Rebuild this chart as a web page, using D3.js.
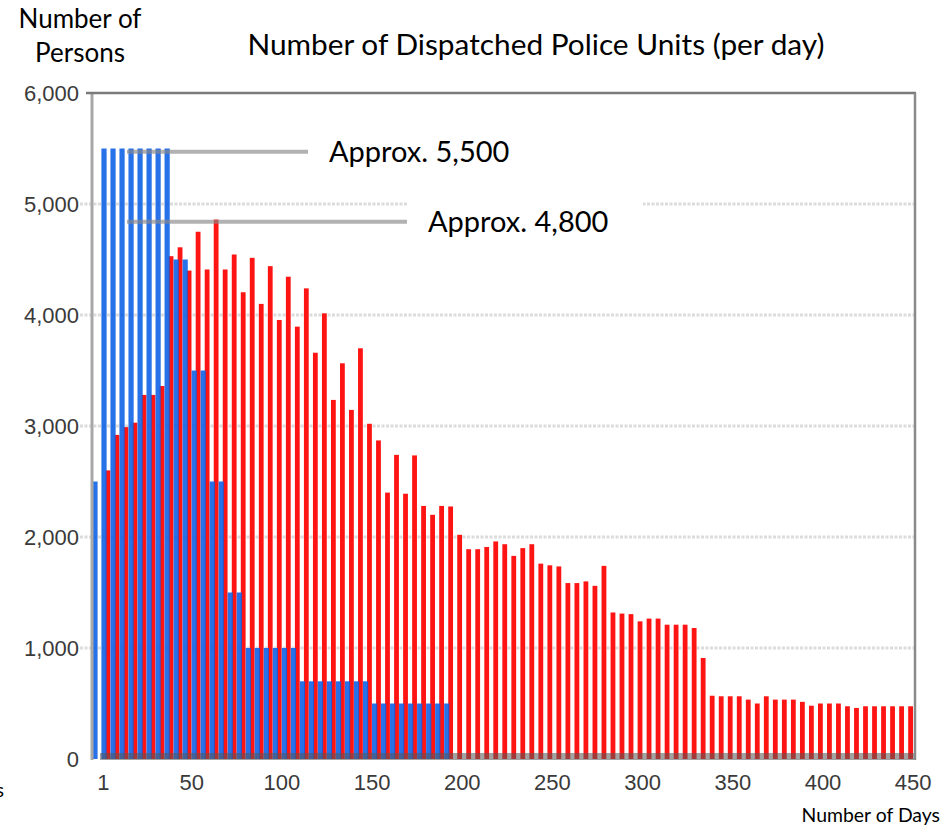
<!DOCTYPE html>
<meta charset="utf-8">
<title>Dispatched Police Units</title>
<style>

body {
  margin: 0;
  background: #fff;
}

.tick-label {
  font-family: "Liberation Sans", Arial, sans-serif;
  font-size: 22px;
  fill: #3a3a3a;
}

.caption {
  font-family: Lato, "Open Sans", sans-serif;
  fill: #000;
}

.grid {
  stroke: #dcdcdc;
  stroke-width: 3;
  stroke-dasharray: 3,1.5;
}

</style>
<body>

<script src="https://d3js.org/d3.v7.min.js"></script>
<script>

// y ticks and x ticks
var yTicks = [0, 1000, 2000, 3000, 4000, 5000, 6000];
var xTicks = [1, 50, 100, 150, 200, 250, 300, 350, 400, 450];

// red series: one bar per 5 days, first bin starts at day 0
var redStart = 0;
var redValues = [
  2600, 2920, 2990, 3030, 3280, 3280, 3360, 4530, 4610, 4400,
  4750, 4410, 4860, 4410, 4545, 4205, 4515, 4100, 4440, 3955,
  4345, 3895, 4240, 3660, 4015, 3235, 3565, 3145, 3700, 3020,
  2870, 2400, 2740, 2390, 2735, 2280, 2200, 2280, 2275, 2020,
  1890, 1890, 1910, 1960, 1935, 1830, 1900, 1935, 1760, 1745,
  1735, 1585, 1585, 1600, 1560, 1740, 1320, 1310, 1305, 1240,
  1265, 1265, 1210, 1210, 1210, 1180, 910, 570, 565, 565,
  565, 535, 500, 565, 535, 535, 535, 515, 480, 500,
  500, 500, 475, 460, 475, 475, 475, 475, 475, 475
];

// blue series: one bar per 5 days, first bin starts 5 days earlier
var blueStart = -5;
var blueValues = [
  2500, 5500, 5500, 5500, 5500, 5500, 5500, 5500, 5500, 4500,
  4500, 3500, 3500, 2500, 2500, 1500, 1500, 1000, 1000, 1000,
  1000, 1000, 1000, 700, 700, 700, 700, 700, 700, 700,
  700, 500, 500, 500, 500, 500, 500, 500, 500, 500
];

// the two callouts
var callouts = [
  {label: "Approx. 5,500", value: 5470, lineEnd: 308, boxEnd: 530},
  {label: "Approx. 4,800", value: 4840, lineEnd: 407, boxEnd: 643}
];

var binDays = 5;

var width = 952,
    height = 826;

var plot = {left: 92, right: 915, top: 93, bottom: 759};

var svg = d3.select("body").append("svg")
    .attr("width", width)
    .attr("height", height);

var x = d3.scaleLinear()
    .domain([0, 450])
    .range([101.5, 913.2]);

var y = d3.scaleLinear()
    .domain([0, 6000])
    .range([plot.bottom, plot.top]);

function binCenter(start, i) {
  return x(start + i * binDays + binDays / 2);
}

// gridlines
svg.append("g").selectAll("line")
    .data(yTicks.filter(function(d) { return d > 0 && d < 6000; }))
  .enter().append("line")
    .attr("class", "grid")
    .attr("x1", 80)
    .attr("x2", plot.right)
    .attr("y1", function(d) { return y(d); })
    .attr("y2", function(d) { return y(d); });

// red bars
svg.append("g").selectAll("rect")
    .data(redValues)
  .enter().append("rect")
    .attr("x", function(d, i) { return binCenter(redStart, i) - 0.5; })
    .attr("width", 4.8)
    .attr("y", function(d) { return y(d); })
    .attr("height", function(d) { return y(0) - y(d); })
    .style("fill", "#ff1414");

// blue bars on top
svg.append("g").selectAll("rect")
    .data(blueValues)
  .enter().append("rect")
    .attr("x", function(d, i) { return binCenter(blueStart, i) - 4.6; })
    .attr("width", 5.2)
    .attr("y", function(d) { return y(d); })
    .attr("height", function(d) { return y(0) - y(d); })
    .style("fill", "#0a5fe6")
    .style("opacity", 0.88);

// grey strip along the bottom of the bars
svg.append("rect")
    .attr("x", 100)
    .attr("y", y(0) - 6)
    .attr("width", plot.right - 100)
    .attr("height", 7)
    .style("fill", "#555")
    .style("opacity", 0.55);

// white boxes behind callout text
svg.append("g").selectAll("rect")
    .data(callouts)
  .enter().append("rect")
    .attr("x", function(d) { return d.lineEnd; })
    .attr("y", function(d) { return y(d.value) - 24; })
    .attr("width", function(d) { return d.boxEnd - d.lineEnd; })
    .attr("height", 46)
    .style("fill", "#fff");

// callout lines
svg.append("g").selectAll("line")
    .data(callouts)
  .enter().append("line")
    .attr("x1", 127)
    .attr("x2", function(d) { return d.lineEnd; })
    .attr("y1", function(d) { return y(d.value); })
    .attr("y2", function(d) { return y(d.value); })
    .style("stroke", "#8a8a8a")
    .style("stroke-width", 4)
    .style("opacity", 0.65);

// callout text
svg.append("g").selectAll("text")
    .data(callouts)
  .enter().append("text")
    .attr("class", "caption")
    .attr("x", function(d) { return d.lineEnd + 21; })
    .attr("y", function(d) { return y(d.value) + 10; })
    .style("font-size", "29px")
    .text(function(d) { return d.label; });

// frame: left axis, top and right border
svg.append("line")
    .attr("x1", plot.left).attr("x2", plot.left)
    .attr("y1", plot.top).attr("y2", plot.bottom + 1)
    .style("stroke", "#a8a8a8")
    .style("stroke-width", 3);

svg.append("line")
    .attr("x1", 86).attr("x2", plot.right + 1)
    .attr("y1", plot.top).attr("y2", plot.top)
    .style("stroke", "#7a7a7a")
    .style("stroke-width", 2.5);

svg.append("line")
    .attr("x1", plot.right).attr("x2", plot.right)
    .attr("y1", plot.top).attr("y2", plot.bottom + 1)
    .style("stroke", "#8a8a8a")
    .style("stroke-width", 2.5);

// y tick labels
svg.append("g").selectAll("text")
    .data(yTicks)
  .enter().append("text")
    .attr("class", "tick-label")
    .attr("x", 79)
    .attr("y", function(d) { return y(d); })
    .attr("dy", "0.36em")
    .attr("text-anchor", "end")
    .text(d3.format(","));

// x tick labels
svg.append("g").selectAll("text")
    .data(xTicks)
  .enter().append("text")
    .attr("class", "tick-label")
    .attr("x", function(d) { return x(d); })
    .attr("y", 790)
    .attr("text-anchor", "middle")
    .text(function(d) { return d; });

// titles
svg.append("text")
    .attr("class", "caption")
    .attr("x", 536)
    .attr("y", 55)
    .attr("text-anchor", "middle")
    .style("font-size", "29.8px")
    .text("Number of Dispatched Police Units (per day)");

svg.append("text")
    .attr("class", "caption")
    .attr("x", 80)
    .attr("y", 28)
    .attr("text-anchor", "middle")
    .style("font-size", "26px")
    .text("Number of");

svg.append("text")
    .attr("class", "caption")
    .attr("x", 80)
    .attr("y", 62)
    .attr("text-anchor", "middle")
    .style("font-size", "26px")
    .text("Persons");

svg.append("text")
    .attr("class", "caption")
    .attr("x", 940)
    .attr("y", 822)
    .attr("text-anchor", "end")
    .style("font-size", "19.4px")
    .text("Number of Days");

// cut-off axis title on the far left, only its last letter shows
svg.append("text")
    .attr("class", "caption")
    .attr("x", 4)
    .attr("y", 797)
    .attr("text-anchor", "end")
    .style("font-size", "19px")
    .text("Number of Days");

</script>

</body>
